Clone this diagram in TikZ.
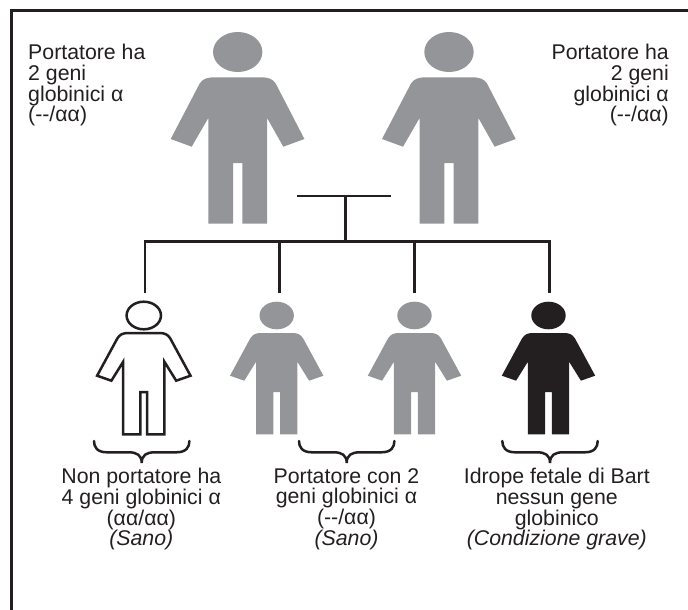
\documentclass[tikz,border=0pt]{standalone}
\usepackage{fontspec}
\setmainfont{Liberation Sans}
\definecolor{ink}{HTML}{231F20}
\definecolor{figgray}{HTML}{939598}
\tikzset{
  x=1pt,y=-1pt,
  line/.style={draw=ink,line width=2.5pt},
  bracestroke/.style={draw=ink,line width=2.5pt,line cap=round},
  label/.style={inner sep=0pt,text=ink,font=\fontsize{21.3}{20.7}\selectfont},
  solidfig/.style={fill=#1,draw=none},
  openfig/.style={fill=white,draw=ink,line width=2.5pt,miter limit=10}
}
\newcommand{\dd}{-{}-}
\newcommand{\adultfig}[1]{%
  \begin{scope}[xshift=#1pt]
    \fill[figgray] (0,52) ellipse [x radius=24.7,y radius=20];
    \fill[figgray] (-22.7,77.3) -- (22.7,77.3)
      .. controls (31,77.3) and (35,79) .. (38,83.5)
      -- (66.7,139) -- (45.6,146.7) -- (29.4,118) -- (29.4,223.7) -- (4.7,223.7) -- (4.7,163)
      -- (-4.7,163) -- (-4.7,223.7) -- (-29.4,223.7) -- (-29.4,118) -- (-46,146.7) -- (-67,139)
      -- (-38,83.5) .. controls (-35,79) and (-31,77.3) .. (-22.7,77.3) -- cycle;
  \end{scope}}
\newcommand{\childshape}{%
  (-15.5,333) -- (15.5,333)
      .. controls (21,333) and (24,334.5) .. (26.5,338.5)
      -- (46.7,375.7) -- (32.4,380.7) -- (20.6,361.7) -- (20.6,434.3) -- (3.4,434.3) -- (3.4,392)
      -- (-3.4,392) -- (-3.4,434.3) -- (-20.6,434.3) -- (-20.6,361.7) -- (-32.4,380.7) -- (-46.7,375.7)
      -- (-26.5,338.5) .. controls (-24,334.5) and (-21,333) .. (-15.5,333) -- cycle}
\newcommand{\childfig}[2]{%
  \begin{scope}[xshift=#1pt]
    \path[#2] (0,315.5) ellipse [x radius=17.2,y radius=13.8];
    \path[#2] \childshape;
  \end{scope}}
\newcommand{\bracefig}[2]{%
  \begin{scope}[xshift=#1pt]
    \draw[bracestroke] (-#2,441) .. controls (-#2,447) and (-#2+3,452.3) .. (-#2+13,452.3)
      -- (-13,452.3) .. controls (-5,452.3) and (0,455) .. (0,463)
      .. controls (0,455) and (5,452.3) .. (13,452.3)
      -- (#2-13,452.3) .. controls (#2-3,452.3) and (#2,447) .. (#2,441);
  \end{scope}}
\begin{document}
\begin{tikzpicture}
\useasboundingbox (0,0) rectangle (688,610);
% frame
\draw[draw=ink,line width=2.8pt] (11.2,610) -- (11.2,10.5) -- (688,10.5);
% figures
\adultfig{237.7}
\adultfig{449}
\childfig{143.8}{openfig}
\childfig{276.7}{solidfig=figgray}
\childfig{414.5}{solidfig=figgray}
\childfig{548.5}{solidfig=ink}
% pedigree
\coordinate (mateL) at (297,196);
\coordinate (mateR) at (391,196);
\coordinate (mateM) at (345.3,196);
\coordinate (sibM) at (345.3,241.7);
\coordinate (sibA) at (145,241.7);
\coordinate (sibB) at (279.3,241.7);
\coordinate (sibC) at (414.3,241.7);
\coordinate (sibD) at (549.3,241.7);
\coordinate (kidA) at (145,293);
\coordinate (kidB) at (279.3,293);
\coordinate (kidC) at (414.3,293);
\coordinate (kidD) at (549.3,293);
\draw[line] (mateL) -- (mateR);
\draw[line] (mateM) -- (sibM);
\draw[line] ([xshift=-1.25pt]sibA) -- ([xshift=1.25pt]sibD);
\draw[line] (sibA) -- (kidA);
\draw[line] (sibB) -- (kidB);
\draw[line] (sibC) -- (kidC);
\draw[line] (sibD) -- (kidD);
% braces
\bracefig{141.7}{47.7}
\bracefig{346.7}{47.7}
\bracefig{550}{47.7}
% labels
\node[label,anchor=north west,align=left] (parentL) at (28,44) {Portatore ha\\2 geni\\globinici α\\(\dd/αα)};
\node[label,anchor=north east,align=right] (parentR) at (669,44) {Portatore ha\\2 geni\\globinici α\\(\dd/αα)};
\node[label,anchor=north,align=center] (capA) at (141.3,468) {Non portatore ha\\4 geni globinici α\\(αα/αα)\\\textit{(Sano)}};
\node[label,anchor=north,align=center] (capB) at (346.5,468) {Portatore con 2\\geni globinici α\\(\dd/αα)\\\textit{(Sano)}};
\node[label,anchor=north,align=center] (capC) at (556.8,468) {Idrope fetale di Bart\\nessun gene\\globinico\\\textit{(Condizione grave)}};
\end{tikzpicture}
\end{document}
